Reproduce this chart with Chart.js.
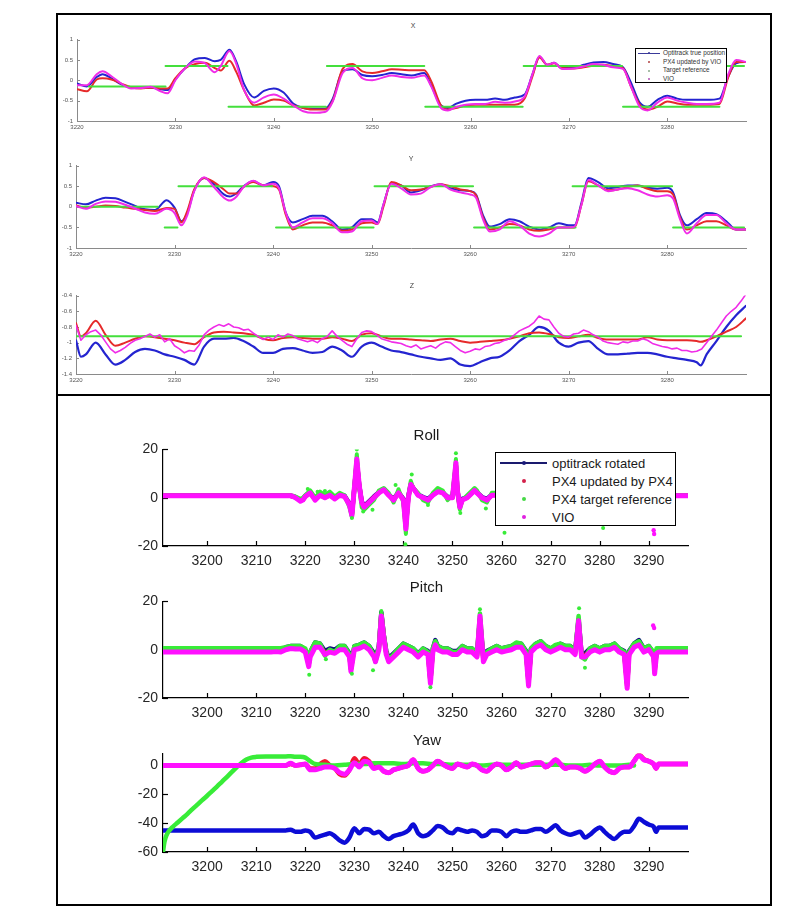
<!DOCTYPE html>
<html>
<head>
<meta charset="utf-8">
<title>Position and attitude tracking</title>
<script src="https://cdn.jsdelivr.net/npm/chart.js@4.4.1/dist/chart.umd.min.js"></script>
<style>
html,body{margin:0;padding:0;background:#fff;}
body{position:relative;width:799px;height:912px;overflow:hidden;font-family:"Liberation Sans",Arial,Helvetica,sans-serif;}
canvas{position:absolute;}
.frame{position:absolute;border:2px solid #000;box-sizing:border-box;}
.ttl{position:absolute;transform:translate(-50%,-50%);white-space:nowrap;line-height:1;}
.leg{position:absolute;background:#fff;border:1px solid #000;box-sizing:border-box;}
.leg span{position:absolute;white-space:nowrap;line-height:1;}
.leg i{position:absolute;display:block;}
</style>
</head>
<body>
<div class="frame" style="left:56px;top:13px;width:716px;height:383px"></div>
<div class="frame" style="left:56px;top:394px;width:716px;height:512px"></div>
<script>
// ---------------- TOP PANEL DATA (X / Y / Z position) ----------------
const topXTicks = [3220, 3230, 3240, 3250, 3260, 3270, 3280];
const xyTicks = [-1, -0.5, 0, 0.5, 1];
const zTicks = [-1.4, -1.2, -1, -0.8, -0.6, -0.4];

const xT = [3220,3221,3222,3222.6,3223.5,3224.5,3225.5,3226.5,3227.5,3228.5,
  3229.2,3230,3231,3232,3233,3234,3234.6,3235.5,3236.2,3237,
  3238,3239,3240,3241,3242,3243,3244,3245.2,3246,3247,
  3248,3249,3250,3251,3252,3253,3254,3255.3,3256,3257,
  3257.7,3258.5,3259.5,3260.5,3261.5,3262.5,3263.5,3264.5,3265.5,3266.3,
  3267,3267.8,3268.5,3269.3,3270.5,3271.5,3272.5,3273.5,3274.5,3275.5,
  3276.3,3277.2,3278,3279,3280,3281,3282,3283,3284,3285.3,
  3286.2,3287,3288];
const xOpti = [-0.08,-0.15,0.08,0.15,0.05,-0.10,-0.18,-0.18,-0.18,-0.22,
  -0.24,0.02,0.30,0.52,0.55,0.47,0.50,0.75,0.45,-0.10,
  -0.42,-0.26,-0.20,-0.30,-0.58,-0.68,-0.70,-0.70,-0.45,0.22,
  0.27,0.13,0.10,0.13,0.18,0.15,0.12,0.18,-0.12,-0.62,
  -0.68,-0.58,-0.50,-0.48,-0.48,-0.45,-0.48,-0.42,-0.35,0.15,
  0.58,0.38,0.43,0.30,0.30,0.38,0.44,0.45,0.40,0.32,
  -0.05,-0.55,-0.65,-0.48,-0.38,-0.45,-0.48,-0.48,-0.48,-0.45,
  0.10,0.42,0.45];
const xPX4 = [-0.22,-0.27,0.02,0.05,0.02,-0.08,-0.17,-0.20,-0.18,-0.20,
  -0.20,0.05,0.30,0.40,0.43,0.30,0.24,0.48,0.20,-0.25,
  -0.62,-0.55,-0.47,-0.50,-0.62,-0.68,-0.72,-0.72,-0.50,0.28,
  0.40,0.22,0.18,0.22,0.27,0.26,0.25,0.25,-0.02,-0.62,
  -0.72,-0.68,-0.62,-0.60,-0.60,-0.60,-0.60,-0.60,-0.45,0.10,
  0.56,0.38,0.42,0.30,0.29,0.32,0.36,0.38,0.35,0.30,
  -0.15,-0.60,-0.72,-0.65,-0.52,-0.57,-0.60,-0.60,-0.60,-0.58,
  0.08,0.45,0.45];
const xVIO = [-0.12,-0.12,0.15,0.22,0.10,-0.08,-0.20,-0.19,-0.16,-0.27,
  -0.32,0.00,0.30,0.46,0.42,0.20,0.35,0.72,0.40,-0.25,
  -0.55,-0.42,-0.35,-0.45,-0.62,-0.76,-0.80,-0.78,-0.52,0.18,
  0.30,0.05,0.00,0.06,0.12,0.08,0.06,0.12,-0.15,-0.68,
  -0.74,-0.66,-0.60,-0.58,-0.58,-0.53,-0.55,-0.52,-0.40,0.15,
  0.60,0.38,0.43,0.28,0.29,0.34,0.40,0.38,0.32,0.28,
  -0.15,-0.65,-0.74,-0.55,-0.42,-0.50,-0.55,-0.58,-0.58,-0.55,
  0.15,0.50,0.45];
const xTgtStart = [3221.2, 3229.0, 3235.4, 3245.4, 3255.4, 3265.4, 3275.5, 3285.4];
const xTgtEnd   = [3229.0, 3235.3, 3245.3, 3255.3, 3265.3, 3275.4, 3285.3, 3287.8];
const xTgtLevel = [-0.15, 0.35, -0.65, 0.35, -0.65, 0.35, -0.65, 0.35];

const yT = [3220,3221,3222,3223,3224,3225,3226,3227,3228,3229.2,
  3230,3230.7,3231.3,3232,3233,3234,3235,3235.6,3236.3,3237,
  3238,3239,3240,3240.6,3241.3,3242,3243,3244,3245,3246,
  3247,3248,3249,3250,3250.6,3251.2,3252,3253,3254,3255,
  3256,3257,3258,3259,3260,3260.6,3261.3,3262,3263,3264,
  3265,3266,3267,3268,3269,3270,3270.6,3271.3,3272,3273,
  3274,3275,3276,3277,3278,3279,3280,3280.6,3281.3,3282,
  3283,3284,3285,3286,3287,3288];
const yOpti = [0.10,0.06,0.15,0.22,0.21,0.12,0.02,-0.06,-0.08,0.16,
  -0.02,-0.35,-0.15,0.40,0.70,0.55,0.30,0.25,0.33,0.50,
  0.62,0.52,0.60,0.50,-0.15,-0.38,-0.30,-0.22,-0.22,-0.35,
  -0.55,-0.50,-0.30,-0.30,-0.38,0.05,0.58,0.52,0.35,0.40,
  0.50,0.55,0.45,0.40,0.38,0.30,-0.20,-0.48,-0.42,-0.30,
  -0.35,-0.48,-0.55,-0.50,-0.40,-0.45,-0.45,0.10,0.70,0.60,
  0.45,0.48,0.52,0.52,0.46,0.44,0.46,0.35,-0.20,-0.45,
  -0.30,-0.15,-0.18,-0.35,-0.55,-0.55];
const yPX4 = [0.03,-0.02,0.00,0.03,0.02,-0.02,-0.05,-0.08,-0.10,-0.03,
  -0.05,-0.38,-0.10,0.42,0.70,0.60,0.42,0.32,0.32,0.48,
  0.60,0.52,0.50,0.42,-0.20,-0.55,-0.45,-0.38,-0.38,-0.45,
  -0.58,-0.55,-0.40,-0.38,-0.42,0.00,0.60,0.52,0.40,0.42,
  0.48,0.55,0.50,0.42,0.38,0.28,-0.25,-0.55,-0.50,-0.42,
  -0.45,-0.55,-0.58,-0.55,-0.50,-0.50,-0.50,0.05,0.62,0.52,
  0.40,0.42,0.48,0.52,0.44,0.38,0.38,0.30,-0.25,-0.55,
  -0.45,-0.35,-0.35,-0.45,-0.55,-0.55];
const yVIO = [0.02,-0.05,0.07,0.13,0.12,0.05,-0.04,-0.14,-0.17,-0.05,
  -0.15,-0.45,-0.20,0.38,0.72,0.48,0.22,0.15,0.25,0.48,
  0.63,0.52,0.56,0.45,-0.15,-0.50,-0.38,-0.28,-0.28,-0.40,
  -0.62,-0.60,-0.35,-0.33,-0.42,0.05,0.56,0.45,0.30,0.32,
  0.48,0.55,0.42,0.35,0.30,0.22,-0.30,-0.60,-0.55,-0.35,
  -0.45,-0.65,-0.72,-0.65,-0.50,-0.50,-0.48,0.05,0.65,0.52,
  0.38,0.42,0.45,0.40,0.30,0.25,0.28,0.20,-0.30,-0.65,
  -0.40,-0.20,-0.20,-0.40,-0.55,-0.55];
const yTgtStart = [3220.4, 3229.0, 3230.4, 3240.3, 3250.3, 3260.4, 3270.4, 3280.6];
const yTgtEnd   = [3228.3, 3230.3, 3239.9, 3250.2, 3260.3, 3270.7, 3280.5, 3287.8];
const yTgtLevel = [0, -0.5, 0.5, -0.5, 0.5, -0.5, 0.5, -0.5];

const zT = [3220,3220.5,3221,3222,3223,3224,3225,3226,3227,3228,3229,3230,
  3231,3232,3233,3234,3235,3236,3237,3238,3239,3240,
  3241,3242,3243,3244,3245,3246,3247,3248,3249,3250,
  3251,3252,3253,3254,3255,3256,3257,3258,3259,3260,
  3261,3262,3263,3264,3265,3266,3267,3268,3269,3270,
  3271,3272,3273,3274,3275,3276,3277,3278,3279,3280,
  3281,3282,3283,3283.4,3284,3285,3286,3287,3288];
const zOpti = [-0.97,-1.18,-1.15,-1.00,-1.15,-1.28,-1.22,-1.12,-1.08,-1.10,-1.15,-1.18,
  -1.22,-1.28,-1.05,-0.95,-0.95,-0.94,-0.98,-1.05,-1.13,-1.13,
  -1.08,-1.07,-1.10,-1.13,-1.12,-1.05,-1.10,-1.18,-1.05,-1.00,
  -1.05,-1.10,-1.12,-1.15,-1.18,-1.20,-1.22,-1.20,-1.28,-1.30,
  -1.25,-1.20,-1.18,-1.10,-0.98,-0.90,-0.80,-0.85,-1.00,-1.05,
  -1.00,-0.98,-1.08,-1.15,-1.15,-1.14,-1.13,-1.13,-1.15,-1.18,
  -1.20,-1.22,-1.25,-1.29,-1.15,-0.98,-0.80,-0.65,-0.53];
const zPX4 = [-0.75,-0.92,-0.88,-0.72,-0.90,-1.04,-1.00,-0.95,-0.92,-0.93,-0.95,-0.97,
  -1.00,-1.02,-0.93,-0.87,-0.86,-0.87,-0.88,-0.90,-0.95,-0.97,
  -0.94,-0.93,-0.94,-0.95,-0.95,-0.93,-0.95,-0.98,-0.90,-0.88,
  -0.92,-0.95,-0.95,-0.96,-0.97,-0.98,-0.96,-0.95,-0.98,-1.00,
  -0.99,-0.98,-0.97,-0.95,-0.92,-0.88,-0.87,-0.89,-0.93,-0.94,
  -0.92,-0.90,-0.94,-0.96,-0.96,-0.96,-0.96,-0.93,-0.96,-0.97,
  -0.97,-0.97,-0.98,-0.99,-0.97,-0.92,-0.86,-0.80,-0.69];
const zVioT = [3220,3220.5,3221,3221.5,3222,3222.5,3223,3223.5,3224,3224.5,
  3225,3225.5,3226,3226.5,3227,3227.5,3228,3228.5,3229,3229.5,
  3230,3230.5,3231,3231.5,3232,3232.5,3233,3233.5,3234,3234.5,
  3235,3235.5,3236,3236.5,3237,3237.5,3238,3238.5,3239,3239.5,
  3240,3240.5,3241,3241.5,3242,3242.5,3243,3243.5,3244,3244.5,
  3245,3245.5,3246,3246.5,3247,3247.5,3248,3248.5,3249,3249.5,
  3250,3250.5,3251,3251.5,3252,3252.5,3253,3253.5,3254,3254.5,
  3255,3255.5,3256,3256.5,3257,3257.5,3258,3258.5,3259,3259.5,
  3260,3260.5,3261,3261.5,3262,3262.5,3263,3263.5,3264,3264.5,
  3265,3265.5,3266,3266.5,3267,3267.5,3268,3268.5,3269,3269.5,
  3270,3270.5,3271,3271.5,3272,3272.5,3273,3273.5,3274,3274.5,
  3275,3275.5,3276,3276.5,3277,3277.5,3278,3278.5,3279,3279.5,
  3280,3280.5,3281,3281.5,3282,3282.5,3283,3283.5,3284,3284.5,
  3285,3285.5,3286,3286.5,3287,3287.5,3288];
const zVIO = [-0.78,-0.97,-0.90,-0.86,-0.84,-0.90,-0.99,-1.08,-1.13,-1.10,
  -1.06,-1.01,-0.97,-0.95,-0.92,-0.89,-0.93,-0.90,-0.99,-0.95,
  -1.04,-1.08,-1.13,-1.10,-1.11,-1.03,-0.90,-0.84,-0.80,-0.77,
  -0.79,-0.76,-0.80,-0.81,-0.84,-0.83,-0.88,-0.92,-0.96,-0.93,
  -0.96,-0.90,-0.93,-0.89,-0.91,-0.95,-0.97,-0.99,-0.97,-1.00,
  -0.95,-0.92,-0.85,-0.92,-0.97,-1.02,-1.05,-0.95,-0.87,-0.85,
  -0.86,-0.90,-0.95,-0.97,-0.99,-1.00,-1.01,-1.04,-1.06,-1.03,
  -1.08,-1.06,-1.04,-1.07,-1.02,-0.99,-1.00,-1.05,-1.10,-1.13,
  -1.11,-1.08,-1.09,-1.05,-1.04,-1.01,-1.00,-0.97,-0.95,-0.90,
  -0.85,-0.82,-0.79,-0.74,-0.66,-0.70,-0.71,-0.80,-0.88,-0.92,
  -0.93,-0.89,-0.88,-0.84,-0.86,-0.90,-0.93,-0.98,-1.00,-1.01,
  -1.02,-0.99,-1.00,-0.98,-0.98,-0.95,-0.97,-1.01,-1.03,-1.05,
  -1.06,-1.08,-1.07,-1.10,-1.10,-1.12,-1.11,-1.08,-1.00,-0.92,
  -0.84,-0.75,-0.66,-0.60,-0.55,-0.47,-0.38];
const zTgtStart = [3220.0];
const zTgtEnd   = [3287.5];
const zTgtLevel = [-0.92];

const topLegendLabels = ["Optitrack true position", "PX4 updated by VIO", "Target reference", "VIO"];

// ---------------- BOTTOM PANEL DATA (Roll / Pitch / Yaw) ----------------
const botXTicks = [3200, 3210, 3220, 3230, 3240, 3250, 3260, 3270, 3280, 3290];
const rpTicks = [-20, 0, 20];
const yawTicks = [-60, -40, -20, 0];

const rollT = [3191,3217,3217.5,3218,3219,3219.5,3220,3221,3222,3223,
  3224,3225,3226,3227,3228,3229,3229.5,3230,3230.5,3231,
  3231.5,3232,3233,3234,3235,3236,3237,3238,3239,3240,
  3240.5,3241,3241.5,3242,3243,3244,3245,3246,3247,3248,
  3249,3250,3250.7,3251,3251.5,3252,3253,3254,3254.5,3255,
  3256,3257,3258,3259,3260,3262,3264,3266,3268,3270,
  3272,3274,3276,3278,3280,3282,3284,3286,3288,3290,
  3291,3292,3298];
const rollOpti = [0.8,0.8,0.6,0.2,-1,-0.8,0.8,2.2,-0.5,1.3,
  0.3,1.2,0,1.2,0.8,-2.5,-6.5,4,14.5,5,
  -1.5,-3.5,-1.5,0.5,2.3,3.5,1.3,-0.5,2.2,-0.5,
  -11,0.5,5.5,4,1.3,0.3,-0.5,1.2,2.8,2.2,
  0.3,0.3,13,3,-3.5,-0.5,0.3,2.2,3.2,2.2,
  0.3,-0.5,1.2,1.2,-1.5,2.2,-0.5,1.2,3,-1.5,
  1.2,2.2,-0.5,1.2,-2.5,2.2,0.3,1.2,-0.5,0.3,
  -1,0.8,0.8];
const rollPX4 = [0.8,0.8,0.5,0.1,-1.2,-0.9,0.6,2,-0.8,1.1,
  0.1,1.1,-0.3,1.1,0.6,-2.8,-7,4,15,5,
  -1.8,-3.8,-1.8,0.2,2.1,3.4,1.1,-0.8,2.1,-0.8,
  -12,0.2,5.5,4,1.1,0.1,-0.8,1.1,2.6,2.1,
  0.1,0.1,13.5,3,-3.8,-0.8,0.1,2.1,3.1,2.1,
  0.1,-0.8,1.1,1.1,-1.8,2.1,-0.8,1.1,3,-1.8,
  1.1,2.1,-0.8,1.1,-2.8,2.1,0.1,1.1,-0.8,0.1,
  -1.5,0.8,0.8];
const rollTarget = [0.8,0.8,0.8,0.5,-0.5,0,1,3,0,2.5,
  1,2.5,0.5,2,1,-4,-8,5,18,4,
  -4,-5,-3,-1,3,4,2,-2,3.5,-2,
  -15,1,7,4,2,-1,-2,2,4,3,
  -1,1,16,2,-5,-1,1,3,4,3,
  -1,-2,2,2,-3,3,-2,2,4,-3,
  2,3,-2,2,-4,3,-1,2,-2,1,
  -2,0.8,0.8];
const rollVIO = [0.8,0.8,0.5,0,-1.5,-1,0.5,2,-1,1,
  0,1,-0.5,1,0.5,-3,-7.5,4,16,5,
  -2,-4,-2,0,2,3.3,1,-1,2,-1,
  -13,0,5.5,4,1,0,-1,1,2.5,2,
  0,0,14.5,3,-4,-1,0,2,3,2,
  0,-1,1,1,-2,2,-1,1,3,-2,
  1,2,-1,1,-3,2,0,1,-1,0,
  -2,0.8,0.8];
const rollTgtOutT = [3220.5,3222.5,3224,3229.5,3230.5,3231.8,3233.7,3238.4,3240.4,3241.7,3245,3250.7,3251.6,3256.8,3260.6,3280.7];
const rollTgtOutV = [3.6,2.5,2.8,-8.4,20,-5.7,-5,5.3,-19.3,9.6,-3,18.4,-6.3,-4.5,-14.5,-12.5];
const rollVioOutT = [3291, 3291.1];
const rollVioOutV = [-13.5, -15];

const pitchT = [3191,3213,3214,3215,3216,3217,3218,3219,3220,3220.7,
  3221,3222,3223,3224,3225,3226,3227,3228,3229,3229.3,
  3230,3231,3232,3233,3234,3234.3,3235,3235.5,3236,3236.5,
  3237,3238,3239,3240,3241,3242,3243,3244,3245,3245.5,
  3246,3246.5,3247,3248,3249,3250,3251,3252,3253,3254,
  3255,3255.6,3256.3,3257,3258,3259,3260,3261,3262,3263,
  3264,3265,3265.5,3266,3267,3268,3269,3270,3271,3272,
  3273,3274,3275,3275.7,3276.3,3277,3278,3279,3280,3281,
  3282,3283,3284,3285,3285.6,3286,3287,3288,3289,3290,
  3291,3291.2,3291.6,3292,3298];
const pitchOpti = [-0.5,-0.5,-0.3,-0.3,1,1.5,1.5,1.5,0,-5,
  -1,3,2.5,-0.5,0.5,0,1.5,1.5,-1.5,-7,
  1.5,2,3,1.5,-1.5,-3.5,1.5,15.5,6,-0.5,
  -3.5,-1.5,0.5,2.5,1.5,0.5,-1.5,0.5,-0.5,-12,
  0.5,4,1.5,0.5,0.5,-0.5,-0.5,1.5,0.5,0.5,
  -1.5,12.5,-3.5,-0.5,0.5,1.5,0.5,1,1.5,2.5,
  2.5,-0.5,-13,0.5,2.5,3.5,1.5,0.5,1.5,2.5,
  1.5,1.5,-0.5,12.5,-1.5,-1.5,0.5,1.5,0.5,1.5,
  1.5,2.5,0.5,-0.5,-14,-0.5,2.5,4,0.5,1.5,
  -1.5,-8,-0.5,-0.5,-0.5];
const pitchPX4 = [-0.2,-0.2,0,-0.2,0.6,1,0.9,0.9,-0.4,-6,
  -2.4,1.6,1.6,-1.4,-0.4,-0.9,0.6,0.6,-2.4,-8,
  0.6,1.1,2.1,0.6,-2.4,-4.4,0.6,14.5,5.6,-1.4,
  -4.4,-2.4,-0.4,1.6,0.6,-0.4,-2.4,-0.4,-1.4,-13,
  -0.4,2.6,0.6,-0.4,-0.4,-1.4,-1.4,0.6,-0.4,-0.4,
  -2.4,13,-4.4,-1.4,-0.4,0.6,-0.4,0.1,0.6,1.6,
  1.6,-1.4,-14,-0.4,1.6,2.6,0.6,-0.4,0.6,1.6,
  0.6,0.6,-1.4,11.5,-2.4,-2.4,-0.4,0.6,-0.4,0.6,
  0.6,1.6,-0.4,-1.4,-15,-1.4,1.6,2.6,-0.4,0.6,
  -2.4,-9,-0.9,-0.2,-0.2];
const pitchTarget = [0.6,0.6,0.6,0.6,1,1.5,1.5,1.5,0.5,-6,
  -1,3,2.5,-2.5,0,-1,1.5,1.5,-2,-8,
  1.5,2,3,1.5,-2.5,-5,1.5,15,6,-1,
  -4,-2,0.5,2.5,1.5,0.5,-2,0.5,-1,-13,
  0.5,3.5,1.5,0.5,0.5,-1,-1,1.5,0.5,0.5,
  -2,15,-4,-1,0.5,1.5,0.5,1,1.5,3,
  2.5,-1,-13,0.5,2.5,3.5,1.5,0.5,2,2.5,
  1.5,1.5,-1,14,-3,-4,0.5,1.5,0.5,1.5,
  1.5,2.5,0.5,-1,-14,-1,2.5,3.5,0.5,1.5,
  -1,-6,0.6,0.6,0.6];
const pitchVIO = [-1,-1,-0.8,-1,0,0.5,0.3,0.3,-1,-7,
  -3,1,1,-2,-1,-1.5,0,0,-3,-9,
  0,0.5,1.5,0,-3,-5,0,14,5,-2,
  -5,-3,-1,1,0,-1,-3,-1,-2,-14,
  -1,2,0,-1,-1,-2,-2,0,-1,-1,
  -3,14,-5,-2,-1,0,-1,-0.5,0,1,
  1,-2,-15,-1,1,2,0,-1,0,1,
  0,0,-2,12,-3,-3,-1,0,-1,0,
  0,1,-1,-2,-16,-2,1,2,-1,0,
  -3,-10,-1.5,-1,-1];
const pitchTgtOutT = [3220.8,3224.2,3229.5,3233.8,3235.5,3245.5,3255.6,3275.8,3277];
const pitchTgtOutV = [-10.4,-4,-10,-8.5,16,-15.5,16.7,17.2,-7.5];
const pitchVioOutT = [3290.9, 3291.1];
const pitchVioOutV = [10, 9];

const yawT = [3191,3216,
  3217,3218,3219,3220,3221,3222,3223,3224,3225,3226,
  3227,3228,3229,3230,3231,3232,3233,3234,3235,3236,
  3237,3238,3239,3240,3241,3242,3243,3244,3245,3246,
  3247,3248,3249,3250,3251,3252,3253,3254,3255,3256,
  3257,3258,3259,3260,3261,3262,3263,3264,3265,3266,
  3267,3268,3269,3270,3271,3272,3273,3274,3275,3276,
  3277,3278,3279,3280,3281,3282,3283,3284,3285,3286,
  3287,3288,3289,3290,3291,3291.5,3292,3298];
const yawOpti = [-45,-45,
  -44.5,-46,-46,-45,-46,-50,-49,-48,-47,-49,
  -52,-53.5,-50,-43.5,-47,-44,-44.5,-47,-46,-49,
  -51,-49,-48,-47,-45,-41,-47,-49,-48,-45,
  -42,-43,-46,-47,-44,-45,-46,-45,-46,-49,
  -48,-45,-45,-46,-49,-46,-45,-46,-46,-45,
  -44,-44,-46,-44,-41.5,-45,-47,-48,-47,-46,
  -50,-48,-45,-43,-46,-49,-51,-48,-46,-46,
  -42,-37,-39,-41,-42.5,-46,-43,-43];
const yawPX4 = [0,0,
  1,0,0.5,1,-2,-2,1,3,0,-2,
  -6,-7,-3,5,1,5,3,-1,-1,-4,
  -5,-3,-2,-1,0,4,-2,-4,-3,0,
  3,1,-1,-2,1,0,-1,1,0,-3,
  -4,-1,1,0,-3,-1,2,-1,0,1,
  2,2,-1,1,4,1,-2,-1,-1,-2,
  -4,-2,1,3,-1,-4,-5,-2,-1,-1,
  3,7.5,4.5,3,1,-2,1,1];
const yawVIO = [0,0,
  1.5,0,0.5,1,-3,-3,-2,-1,-1,-2,
  -5,-6,-3,2,-1,3,2,-2,-1,-4,
  -5,-3,-2,-1,0,4,-2,-4,-3,0,
  3,1,-1,-2,1,0,-1,1,0,-3,
  -4,-1,1,0,-3,-1,2,-1,0,1,
  2,2,-1,1,4,1,-2,-1,-1,-2,
  -4,-2,1,3,-1,-4,-5,-2,-1,-1,
  3,7,4,3,1,-2,1,1];
const yawTgtT = [3191,3191.3,3191.7,3192.3,3193,
  3194,3195,3196,3197,3198,3199,3200,3201,3202,3203,3204,3205,3206,3207,3208,3209,3210,
  3212,3214,3216,3217,3218,3219,3220,3221,3222,
  3224,3226,3228,3230,3232,3234,3236,3238,3240,3242,3244,3246,3248,3250,3252,3254,
  3256,3258,3260,3262,3264,3266,3268,3270,3272,3274,3276,3278,3280,3282,3284,3286,3287];
const yawTarget = [-60,-53,-48.5,-45,-42.5,
  -39.5,-36.5,-33.5,-30.3,-27.2,-24,-21,-17.8,-14.6,-11.3,-8,-4.6,-1.3,1.8,4.2,5.5,6,
  6.3,6.3,6.3,6.5,6,6,5.5,3,1,
  0.5,0,0.5,1,1,1.5,1.5,1.5,1,1.5,1.5,1,1,0.5,0.5,0.5,
  0,0.5,0.5,0.5,0.5,0.5,0.5,0.5,0.5,0,0,0.5,0,0,0,0.5,0];

const botLegendLabels = ["optitrack rotated", "PX4 updated by PX4", "PX4 target reference", "VIO"];

// ---------------- RENDERING ----------------
const FF = '"Liberation Sans", Arial, Helvetica, sans-serif';
const C = {blue:'#2424d0', red:'#e62a2a', green:'#44df3c', mag:'#f02ce8'};
const D = {blue:'#0c0cd6', red:'#f01830', green:'#38ec38', mag:'#ff10ff'};

const inTicks = {
  id: 'inTicks',
  beforeDatasetsDraw(chart, args, o) {
    const {ctx, chartArea: a, scales: {x, y}} = chart;
    ctx.save();
    ctx.strokeStyle = o.color; ctx.lineWidth = o.width;
    x.ticks.forEach(t => { const p = Math.round(x.getPixelForValue(t.value)) + 0.5;
      ctx.beginPath(); ctx.moveTo(p, a.bottom); ctx.lineTo(p, a.bottom - o.len); ctx.stroke(); });
    y.ticks.forEach(t => { const p = Math.round(y.getPixelForValue(t.value)) + 0.5;
      ctx.beginPath(); ctx.moveTo(a.left, p); ctx.lineTo(a.left + o.len, p); ctx.stroke(); });
    ctx.restore();
  }
};

function pts(ts, vs) { return ts.map((t, i) => ({x: t, y: vs[i]})); }
function segs(starts, ends, levels) {
  const out = [];
  starts.forEach((s, i) => { out.push({x: s, y: levels[i]}, {x: ends[i], y: levels[i]}, {x: ends[i], y: null}); });
  return out;
}
function line(data, color, w, order, smooth) {
  return {data, borderColor: color, backgroundColor: color, borderWidth: w, pointRadius: 0,
    fill: false, order, spanGaps: false, tension: smooth ? 0.4 : 0,
    cubicInterpolationMode: smooth ? 'monotone' : 'default', borderJoinStyle: 'round', borderCapStyle: 'round'};
}
function dots(data, color, r, order) {
  return {data, showLine: false, pointRadius: r, pointBackgroundColor: color, pointBorderWidth: 0,
    borderColor: color, backgroundColor: color, order};
}

function makeChart(area, cfg) {
  const [l, t, r, b] = area;
  const c = document.createElement('canvas');
  const L = l - cfg.yW, T = t - cfg.padT, W = (r - l) + cfg.yW + cfg.padR, H = (b - t) + cfg.padT + cfg.xH;
  c.width = W; c.height = H;
  c.style.left = L + 'px'; c.style.top = T + 'px'; c.style.width = W + 'px'; c.style.height = H + 'px';
  document.body.appendChild(c);
  const font = {family: FF, size: cfg.fs};
  return new Chart(c, {
    type: 'line',
    data: {datasets: cfg.datasets},
    plugins: [inTicks],
    options: {
      responsive: false, maintainAspectRatio: false, animation: false, devicePixelRatio: 1, events: [],
      layout: {padding: {top: cfg.padT, right: cfg.padR, left: 0, bottom: 0}},
      plugins: {legend: {display: false}, tooltip: {enabled: false}, title: {display: false},
        inTicks: {color: cfg.axisColor, width: cfg.axisW, len: cfg.tickLen}},
      scales: {
        x: {type: 'linear', min: cfg.xMin, max: cfg.xMax,
          afterBuildTicks: s => { s.ticks = cfg.xTicks.map(v => ({value: v})); },
          afterFit: s => { s.height = cfg.xH; },
          grid: {display: false, drawTicks: false},
          border: {display: true, color: cfg.axisColor, width: cfg.axisW},
          ticks: {font, color: cfg.tc, padding: cfg.xPad, maxRotation: 0, minRotation: 0, autoSkip: false, callback: v => String(v)}},
        y: {type: 'linear', min: cfg.yMin, max: cfg.yMax,
          afterBuildTicks: s => { s.ticks = cfg.yTicks.map(v => ({value: v})); },
          afterFit: s => { s.width = cfg.yW; },
          grid: {display: false, drawTicks: false},
          border: {display: true, color: cfg.axisColor, width: cfg.axisW},
          ticks: {font, color: cfg.tc, padding: cfg.yPad, autoSkip: false, callback: v => String(v)}}
      }
    }
  });
}

function addTitle(text, x, y, size, color) {
  const d = document.createElement('div'); d.className = 'ttl'; d.textContent = text;
  d.style.left = x + 'px'; d.style.top = y + 'px'; d.style.fontSize = size + 'px'; d.style.color = color;
  document.body.appendChild(d);
}

function addLegend(box, labels, colors, o) {
  const d = document.createElement('div'); d.className = 'leg';
  d.style.left = box[0] + 'px'; d.style.top = box[1] + 'px';
  d.style.width = (box[2] - box[0]) + 'px'; d.style.height = (box[3] - box[1]) + 'px';
  labels.forEach((lab, i) => {
    const y = o.y0 + i * o.dy;
    if (i === 0) {
      const l = document.createElement('i');
      l.style.cssText = `left:${o.lx0}px;top:${y - o.lw / 2}px;width:${o.lx1 - o.lx0}px;height:${o.lw}px;background:${o.lineColor};`;
      d.appendChild(l);
    }
    const m = document.createElement('i');
    m.style.cssText = `left:${o.mx - o.ms / 2}px;top:${y - o.ms / 2}px;width:${o.ms}px;height:${o.ms}px;border-radius:50%;background:${colors[i]};`;
    d.appendChild(m);
    const s = document.createElement('span'); s.textContent = lab;
    s.style.cssText = `left:${o.tx}px;top:${y - o.fs * 0.5}px;font-size:${o.fs}px;color:${o.tc};`;
    d.appendChild(s);
  });
  document.body.appendChild(d);
}

// top panel common config
const topCfg = {yW: 22, padT: 6, padR: 4, xH: 14, fs: 6, tc: '#555', axisColor: '#8a8a8a', axisW: 1, tickLen: 3,
  xPad: 3, yPad: 4, xMin: 3220, xMax: 3288, xTicks: topXTicks};

makeChart([77, 38, 746, 121], Object.assign({}, topCfg, {yMin: -1, yMax: 1, yTicks: xyTicks, datasets: [
  line(pts(xT, xOpti), C.blue, 2, 3, true),
  line(pts(xT, xPX4), C.red, 2, 2, true),
  line(segs(xTgtStart, xTgtEnd, xTgtLevel), C.green, 2, 1, false),
  line(pts(xT, xVIO), C.mag, 2, 0, true)]}));

makeChart([76, 164, 746, 248], Object.assign({}, topCfg, {yMin: -1, yMax: 1, yTicks: xyTicks, datasets: [
  line(pts(yT, yOpti), C.blue, 2, 3, true),
  line(pts(yT, yPX4), C.red, 2, 2, true),
  line(segs(yTgtStart, yTgtEnd, yTgtLevel), C.green, 2, 1, false),
  line(pts(yT, yVIO), C.mag, 2, 0, true)]}));

makeChart([76, 294, 746, 374], Object.assign({}, topCfg, {yMin: -1.4, yMax: -0.4, yTicks: zTicks, datasets: [
  line(pts(zT, zOpti), C.blue, 2.2, 3, true),
  line(pts(zT, zPX4), C.red, 2, 2, true),
  line(segs(zTgtStart, zTgtEnd, zTgtLevel), C.green, 2, 1, false),
  line(pts(zVioT, zVIO), C.mag, 1.6, 0, false)]}));

addTitle('X', 413, 25, 7, '#444');
addTitle('Y', 411, 158, 7, '#444');
addTitle('Z', 412, 285, 7, '#444');

addLegend([635, 48, 727, 83], topLegendLabels, ['#3a3a9a', '#b04040', '#8aa88a', '#b050b0'],
  {y0: 4.3, dy: 8.6, lx0: 2, lx1: 24, mx: 13, ms: 2, tx: 27, fs: 6.4, tc: '#333', lineColor: '#3a3a9a', lw: 0.8});

// bottom panel common config
const botCfg = {yW: 40, padT: 10, padR: 12, xH: 26, fs: 14, tc: '#262626', axisColor: '#000', axisW: 1.2, tickLen: 5,
  xPad: 7, yPad: 5, xMin: 3191, xMax: 3298, xTicks: botXTicks};

makeChart([163, 446, 688, 546], Object.assign({}, botCfg, {yMin: -20, yMax: 20, yTicks: rpTicks, datasets: [
  line(pts(rollT, rollOpti), D.blue, 4.5, 4, false),
  line(pts(rollT, rollPX4), D.red, 4.5, 3, false),
  line(pts(rollT, rollTarget), D.green, 4, 2, false),
  line(pts(rollT, rollVIO), D.mag, 5, 1, false),
  dots(pts(rollTgtOutT, rollTgtOutV), D.green, 2, 0),
  dots(pts(rollVioOutT, rollVioOutV), D.mag, 2.2, 0)]}));

makeChart([163, 598, 688, 698], Object.assign({}, botCfg, {yMin: -20, yMax: 20, yTicks: rpTicks, datasets: [
  line(pts(pitchT, pitchOpti), '#101080', 4.5, 4, false),
  line(pts(pitchT, pitchPX4), D.red, 4.5, 3, false),
  line(pts(pitchT, pitchTarget), D.green, 4.5, 2, false),
  line(pts(pitchT, pitchVIO), D.mag, 5, 1, false),
  dots(pts(pitchTgtOutT, pitchTgtOutV), D.green, 2, 0),
  dots(pts(pitchVioOutT, pitchVioOutV), D.mag, 2.2, 0)]}));

makeChart([163, 750, 688, 852], Object.assign({}, botCfg, {yMin: -60, yMax: 8.4, yTicks: yawTicks, datasets: [
  line(pts(yawT, yawOpti), D.blue, 4.5, 4, true),
  line(pts(yawTgtT, yawTarget), D.green, 4.5, 2, true),
  line(pts(yawT, yawPX4), D.red, 4.5, 3, true),
  line(pts(yawT, yawVIO), D.mag, 5, 1, true)]}));

addTitle('Roll', 426.5, 433.5, 15, '#1a1a1a');
addTitle('Pitch', 426.5, 586, 15, '#1a1a1a');
addTitle('Yaw', 427, 739, 15, '#1a1a1a');

addLegend([495, 452, 676, 526], botLegendLabels, ['#1a1a7a', '#d4204a', '#46d846', '#e020e0'],
  {y0: 10, dy: 18, lx0: 4, lx1: 51, mx: 28, ms: 4, tx: 56, fs: 13, tc: '#1a1a1a', lineColor: '#1a1a6e', lw: 1.2});
</script>
</body>
</html>
